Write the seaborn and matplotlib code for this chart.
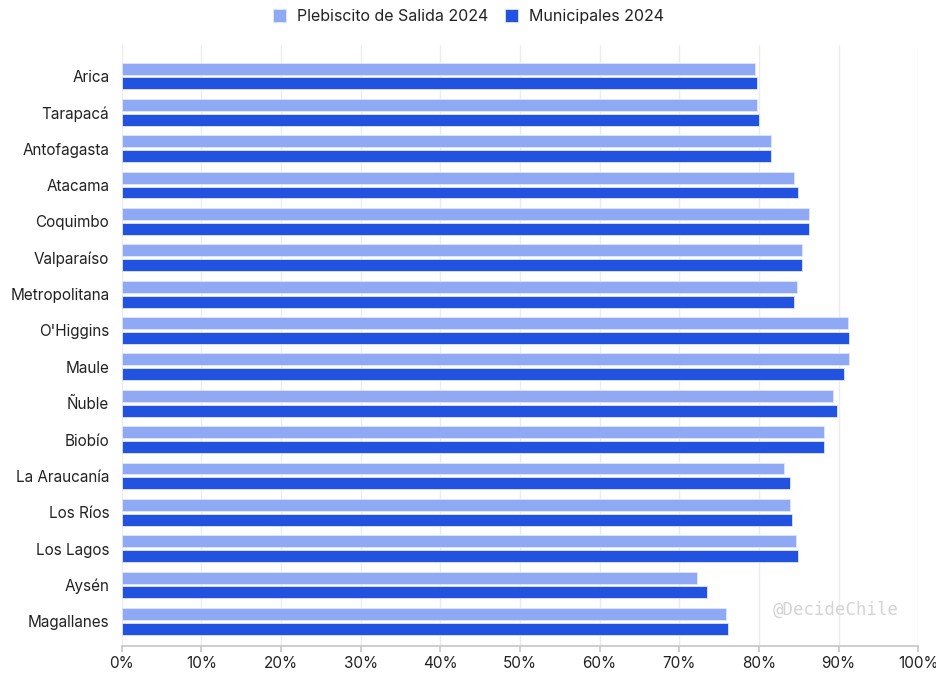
import matplotlib
matplotlib.use('Agg')
import matplotlib.pyplot as plt
import pandas as pd
import seaborn as sns
from matplotlib.ticker import FuncFormatter

REGIONS = ['Arica', 'Tarapacá', 'Antofagasta', 'Atacama', 'Coquimbo', 'Valparaíso',
           'Metropolitana', "O'Higgins", 'Maule', 'Ñuble', 'Biobío', 'La Araucanía',
           'Los Ríos', 'Los Lagos', 'Aysén', 'Magallanes']
PLEBISCITO = [79.5, 79.8, 81.5, 84.4, 86.3, 85.4, 84.8, 91.2, 91.3, 89.3, 88.2, 83.1,
              83.9, 84.6, 72.2, 75.8]
MUNICIPALES = [79.8, 80.0, 81.5, 84.9, 86.3, 85.4, 84.4, 91.3, 90.7, 89.8, 88.2, 83.9,
               84.1, 84.9, 73.5, 76.1]
SERIES = ['Plebiscito de Salida 2024', 'Municipales 2024']
COLORS = ['#90a9f4', '#2253e0']
X_TICKS = list(range(0, 101, 10))

long = pd.DataFrame({
    'Región': REGIONS * 2,
    'Participación': PLEBISCITO + MUNICIPALES,
    'Elección': [SERIES[0]] * len(REGIONS) + [SERIES[1]] * len(REGIONS),
})

sns.set_theme(style='white')
plt.rcParams['font.family'] = ['Inter', 'DejaVu Sans']

fig, ax = plt.subplots(figsize=(9.37, 6.73), dpi=100)
fig.subplots_adjust(left=0.13, right=0.98, top=0.933, bottom=0.04)

sns.barplot(
    data=long, y='Región', x='Participación', hue='Elección',
    palette=COLORS, saturation=1, orient='h', width=0.82, gap=0.2,
    edgecolor='#dfe6fb', linewidth=0.6, ax=ax, legend=True,
)

ax.set_xlim(0, 100)
ax.set_ylim(len(REGIONS) - 1 + 0.68, -0.85)
ax.set_xticks(X_TICKS)
ax.xaxis.set_major_formatter(FuncFormatter(lambda v, _: f'{int(v)}%'))
ax.grid(axis='x', color='#ececef', linewidth=1)
ax.set_axisbelow(True)
ax.set_xlabel('')
ax.set_ylabel('')
for side in ('top', 'right', 'left'):
    ax.spines[side].set_visible(False)
ax.spines['bottom'].set_color('#c8c8c8')
ax.tick_params(axis='x', bottom=True, length=4, color='#c8c8c8', labelsize=11,
               labelcolor='#222222', pad=3)
ax.tick_params(axis='y', left=False, length=0, labelsize=11, labelcolor='#222222', pad=9)

handles, labels = ax.get_legend_handles_labels()
ax.get_legend().remove()
fig.legend(handles, labels, loc='center', bbox_to_anchor=(0.5, 0.975),
           ncol=2, frameon=False, fontsize=11.5, handlelength=0.85, handleheight=0.85,
           columnspacing=1.0, handletextpad=0.7, labelcolor='#222222')

ax.text(0.975, 0.06, '@DecideChile', transform=ax.transAxes, ha='right', va='center',
        fontsize=12.5, color='#d4d4d4', family='DejaVu Sans Mono')

fig.savefig('out.png', dpi=100)
